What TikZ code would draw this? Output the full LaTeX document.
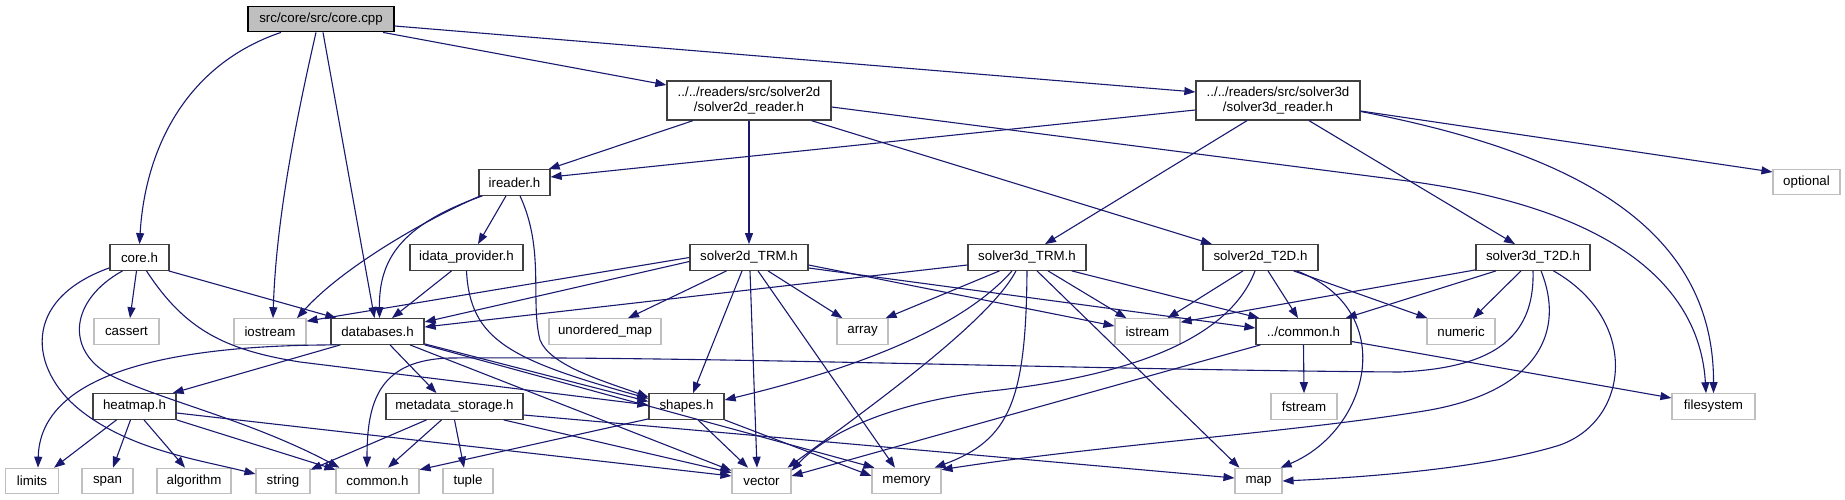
\documentclass[tikz,border=0pt]{standalone}
\usepackage{fontspec}
\setmainfont{Liberation Sans}
\usetikzlibrary{arrows.meta}
\definecolor{navyb}{RGB}{25,25,112}
\definecolor{dgrey}{RGB}{64,64,64}
\definecolor{lgrey}{RGB}{191,191,191}
\tikzset{
  base/.style={rectangle, inner sep=0pt, font=\fontsize{13.3}{14.7}\selectfont, minimum height=25.5pt, text=black},
  doc/.style={base, draw=dgrey, line width=1.3pt},
  sys/.style={base, draw=lgrey, line width=1.1pt},
  cur/.style={base, draw=black, fill=lgrey, line width=1.3pt},
  dep/.style={draw=navyb, line width=1.1pt, -{Triangle[length=11pt,width=8pt]}},
}
\begin{document}
\begin{tikzpicture}[x=1pt, y=-1pt]
\fill[white] (0,0) rectangle (1845,500);
\useasboundingbox (0,0) rectangle (1845,500);

% nodes
\node[cur, minimum width=146pt] (cpp) at (321,19) {src/core/src/core.cpp};
\node[doc, minimum width=164pt, minimum height=39pt, align=center] (s2r) at (749,100.5) {../../readers/src/solver2d\\/solver2d\_reader.h};
\node[doc, minimum width=164pt, minimum height=39pt, align=center] (s3r) at (1278,100.5) {../../readers/src/solver3d\\/solver3d\_reader.h};
\node[doc, minimum width=71pt] (ird) at (514.5,182.5) {ireader.h};
\node[sys, minimum width=67pt] (opt) at (1806.5,182) {optional};
\node[doc, minimum width=59pt] (coreh) at (139.5,257.5) {core.h};
\node[doc, minimum width=113pt] (idp) at (466.5,257.5) {idata\_provider.h};
\node[doc, minimum width=118pt] (s2trm) at (749,257.5) {solver2d\_TRM.h};
\node[doc, minimum width=118pt] (s3trm) at (1027,257.5) {solver3d\_TRM.h};
\node[doc, minimum width=115pt] (s2t2d) at (1260.5,257.5) {solver2d\_T2D.h};
\node[doc, minimum width=114pt] (s3t2d) at (1533,257.5) {solver3d\_T2D.h};
\node[sys, minimum width=65pt] (cas) at (126.5,331.5) {cassert};
\node[sys, minimum width=72pt] (ios) at (270,331.5) {iostream};
\node[doc, minimum width=93pt] (db) at (377.5,331.5) {databases.h};
\node[sys, minimum width=112pt] (umap) at (605,331.5) {unordered\_map};
\node[sys, minimum width=51pt] (arr) at (862.5,331.5) {array};
\node[sys, minimum width=65pt] (ist) at (1147.5,331.5) {istream};
\node[doc, minimum width=95pt] (cmn2) at (1303.5,331.5) {../common.h};
\node[sys, minimum width=68pt] (num) at (1461,331.5) {numeric};
\node[doc, minimum width=83pt] (hm) at (134.5,406.5) {heatmap.h};
\node[doc, minimum width=137pt] (md) at (454.5,406.5) {metadata\_storage.h};
\node[doc, minimum width=75pt] (shp) at (686.5,406.5) {shapes.h};
\node[sys, minimum width=66pt] (fst) at (1304,406.5) {fstream};
\node[sys, minimum width=83pt] (fs) at (1713.5,406.5) {filesystem};
\node[sys, minimum width=53pt] (lim) at (32,481) {limits};
\node[sys, minimum width=51pt] (spn) at (107.5,481) {span};
\node[sys, minimum width=74pt] (alg) at (194,481) {algorithm};
\node[sys, minimum width=54pt] (str) at (283,481) {string};
\node[sys, minimum width=83pt] (cmn) at (377.5,481) {common.h};
\node[sys, minimum width=50pt] (tpl) at (468,481) {tuple};
\node[sys, minimum width=59pt] (vec) at (761.5,481) {vector};
\node[sys, minimum width=69pt] (mem) at (906.5,481) {memory};
\node[sys, minimum width=47pt] (mapn) at (1258.5,481) {map};

% core.cpp
\draw[dep] ([xshift=-40pt]cpp.south) .. controls (185,65) and (145,150) .. (coreh.north);
\draw[dep] ([xshift=-5pt]cpp.south) .. controls (296,120) and (276,220) .. ([xshift=3pt]ios.north);
\draw[dep] ([xshift=2pt]cpp.south) -- ([xshift=-3pt]db.north);
\draw[dep] ([xshift=62pt]cpp.south) -- ([yshift=15.5pt]s2r.west);
\draw[dep] ([yshift=-7pt]cpp.east) -- ([yshift=8.5pt]s3r.west);

% solver2d_reader
\draw[dep] ([xshift=-56pt]s2r.south) -- ([xshift=-2pt]ird.north east);
\draw[dep] (s2r.south) -- (s2trm.north);
\draw[dep] ([xshift=62.5pt]s2r.south) -- ([xshift=-48.5pt]s2t2d.north);
\draw[dep] ([yshift=-6.5pt]s2r.east) -- (1400,180) .. controls (1620,208) and (1700,290) .. ([xshift=-7.5pt]fs.north);

% solver3d_reader
\draw[dep] ([yshift=-9.5pt]s3r.west) -- ([yshift=5.5pt]ird.east);
\draw[dep] ([xshift=-31pt]s3r.south) -- ([xshift=18pt]s3trm.north);
\draw[dep] ([xshift=31pt]s3r.south) -- ([xshift=-18pt]s3t2d.north);
\draw[dep] ([yshift=-10.5pt]s3r.east) -- ([yshift=10pt]opt.west);
\draw[dep] ([yshift=-11pt]s3r.east) .. controls (1560,150) and (1714,220) .. (fs.north);

% ireader
\draw[dep] ([xshift=-8.5pt]ird.south) -- ([xshift=11.5pt]idp.north);
\draw[dep] ([xshift=2pt]ird.south west) .. controls (420,222) and (340,270) .. ([xshift=27pt]ios.north);
\draw[dep] ([xshift=4pt]ird.south west) .. controls (400,225) and (379,260) .. ([xshift=2pt]db.north);
\draw[dep] ([xshift=5.5pt]ird.south) .. controls (545,250) and (530,300) .. (540,340) .. controls (550,365) and (600,380) .. ([yshift=9.5pt]shp.west);

% core.h
\draw[dep] ([xshift=-3pt]coreh.south) -- ([xshift=3.5pt]cas.north);
\draw[dep] ([xshift=-1pt]coreh.south east) -- ([xshift=6pt]db.north west);
\draw[dep] ([yshift=3pt]coreh.south west) .. controls (20,300) and (30,370) .. (80,410) .. controls (130,450) and (200,460) .. ([yshift=7pt]str.west);
\draw[dep] ([xshift=-17pt]coreh.south) .. controls (70,300) and (65,350) .. (110,375) .. controls (160,400) and (250,420) .. ([xshift=4pt]cmn.north west);
\draw[dep] ([xshift=7pt]coreh.south) .. controls (185,330) and (225,350) .. (300,362) -- ([yshift=1.5pt]shp.west);

% idata_provider
\draw[dep] ([xshift=-15pt]idp.south) -- ([xshift=14.5pt]db.north);
\draw[dep] (idp.south) .. controls (470,340) and (510,360) .. ([yshift=8pt]shp.west);

% databases
\draw[dep] ([xshift=6pt]db.south west) .. controls (150,345) and (40,380) .. ([xshift=6pt]lim.north);
\draw[dep] ([xshift=10pt]db.south west) -- ([xshift=-4pt]hm.north east);
\draw[dep] ([xshift=12.5pt]db.south) -- ([xshift=-18pt]md.north);
\draw[dep] ([yshift=1pt]db.south east) -- ([yshift=5pt]shp.west);
\draw[dep] ([xshift=32.5pt]db.south) -- ([yshift=-3pt]vec.north west);
\draw[dep] (db.south east) -- ([xshift=3pt]mem.north west);

% heatmap
\draw[dep] ([xshift=-18pt]hm.south) -- ([xshift=-5pt]lim.north east);
\draw[dep] ([xshift=-4pt]hm.south) -- ([xshift=5.5pt]spn.north);
\draw[dep] ([xshift=9.5pt]hm.south) -- ([xshift=-9pt]alg.north);
\draw[dep] (hm.south east) -- ([yshift=-2pt]cmn.north west);
\draw[dep] ([yshift=-6.5pt]hm.east) -- ([yshift=5pt]vec.west);

% metadata_storage
\draw[dep] ([xshift=-28pt]md.south) -- ([yshift=-2pt]str.north east);
\draw[dep] ([xshift=-13pt]md.south) -- ([xshift=10.5pt]cmn.north);
\draw[dep] (md.south) -- ([xshift=-4pt]tpl.north);
\draw[dep] ([xshift=-20pt]md.south east) -- ([yshift=-5pt]vec.north west);
\draw[dep] ([yshift=-8.5pt]md.east) -- ([yshift=3pt]mapn.west);

% shapes
\draw[dep] ([yshift=1pt]shp.south west) -- ([yshift=-2pt]cmn.north east);
\draw[dep] ([xshift=11.5pt]shp.south) -- ([xshift=-13.5pt]vec.north);
\draw[dep] (shp.south east) -- ([yshift=5pt]mem.west);

% solver2d_TRM
\draw[dep] (s2trm.west) -- ([yshift=-3pt]ios.north east);
\draw[dep] ([yshift=-4pt]s2trm.west) -- ([yshift=9.5pt]db.east);
\draw[dep] ([xshift=-22.5pt]s2trm.south) -- ([xshift=23pt]umap.north);
\draw[dep] ([xshift=-7pt]s2trm.south) -- ([xshift=6.5pt]shp.north);
\draw[dep] ([xshift=1pt]s2trm.south) -- ([xshift=-4.5pt]vec.north);
\draw[dep] ([xshift=9pt]s2trm.south) -- ([xshift=-11.5pt]mem.north);
\draw[dep] ([xshift=19pt]s2trm.south) -- ([xshift=6pt]arr.north west);
\draw[dep] ([yshift=-7.5pt]s2trm.east) -- ([yshift=5.5pt]ist.west);
\draw[dep] ([yshift=-10.5pt]s2trm.east) -- ([yshift=3.5pt]cmn2.west);

% solver3d_TRM
\draw[dep] ([yshift=-7.5pt]s3trm.west) -- ([yshift=4.5pt]db.east);
\draw[dep] ([xshift=-27.5pt]s3trm.south) -- ([xshift=-3pt]arr.north east);
\draw[dep] ([xshift=-15pt]s3trm.south) .. controls (960,330) and (850,370) .. ([yshift=6.5pt]shp.east);
\draw[dep] ([xshift=-11pt]s3trm.south) .. controls (990,320) and (880,400) .. ([xshift=-4pt]vec.north east);
\draw[dep] (s3trm.south) .. controls (1026,400) and (1010,440) .. ([xshift=-7pt]mem.north east);
\draw[dep] ([xshift=10pt]s3trm.south) -- ([xshift=5pt]mapn.north west);
\draw[dep] ([xshift=21pt]s3trm.south) -- ([xshift=12pt]ist.north west);
\draw[dep] ([xshift=-15pt]s3trm.south east) -- ([xshift=4pt]cmn2.north west);

% solver2d_T2D
\draw[dep] ([xshift=-17.5pt]s2t2d.south) -- ([xshift=-13pt]ist.north east);
\draw[dep] ([xshift=-5.5pt]s2t2d.south) .. controls (1225,350) and (1100,378) .. (1000,390) .. controls (900,400) and (830,430) .. ([yshift=-3pt]vec.north east);
\draw[dep] ([xshift=7.5pt]s2t2d.south) -- ([xshift=-5.5pt]cmn2.north);
\draw[dep] ([xshift=-25pt]s2t2d.south east) -- ([xshift=1pt]num.north west);
\draw[dep] ([xshift=-22pt]s2t2d.south east) .. controls (1400,310) and (1370,430) .. ([xshift=-2pt]mapn.north east);

% solver3d_T2D
\draw[dep] ([yshift=1pt]s3t2d.south west) -- ([yshift=-4pt]ist.north east);
\draw[dep] ([xshift=-37pt]s3t2d.south) -- ([xshift=-6pt]cmn2.north east);
\draw[dep] ([xshift=-12pt]s3t2d.south) -- ([xshift=12pt]num.north);
\draw[dep] (s3t2d.south) .. controls (1535,340) and (1490,368) .. (1400,372) .. controls (1100,370) and (700,356) .. (450,358) .. controls (380,360) and (367,400) .. ([xshift=-10.5pt]cmn.north);
\draw[dep] ([xshift=8pt]s3t2d.south) .. controls (1565,330) and (1540,390) .. (1430,410) .. controls (1300,432) and (1100,445) .. ([yshift=-2pt]mem.north east);
\draw[dep] ([xshift=20.5pt]s3t2d.south) .. controls (1640,320) and (1630,420) .. (1560,445) .. controls (1480,470) and (1350,478) .. (mapn.east);

% ../common.h
\draw[dep] (cmn2.south) -- (fst.north);
\draw[dep] ([yshift=-10pt]cmn2.east) -- ([yshift=8.5pt]fs.west);
\draw[dep] ([xshift=5pt]cmn2.south west) -- ([yshift=5pt]vec.east);
\end{tikzpicture}
\end{document}
